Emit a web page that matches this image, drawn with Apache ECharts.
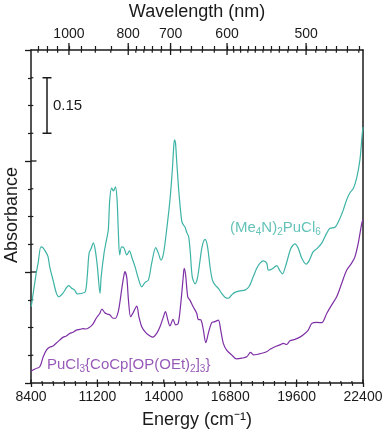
<!DOCTYPE html>
<html style="height: 100%">

<head>
  <meta charset="utf-8">
</head>

<body style="height: 100%; margin: 0">
  <div id="container" style="width: 387px; height: 433px"></div>
  <script type="text/javascript" src="https://cdn.jsdelivr.net/npm/echarts@6/dist/echarts.min.js"></script>
  <script type="text/javascript">
    // 能量 (cm-1) 与吸光度
    var tealEnergy = [8410, 8620, 8700, 8820, 8910, 9050, 9120, 9190, 9330, 9470, 9570, 9750, 9890, 9990, 10100,
      10240, 10350, 10520, 10690, 10770, 10850, 10940, 11030, 11110, 11200, 11310, 11360, 11480, 11580, 11660,
      11720, 11800, 11880, 11960, 12030, 12080, 12140, 12220, 12320, 12440, 12550, 12660, 12790, 12920, 13070,
      13210, 13350, 13490, 13660, 13770, 13880, 13990, 14120, 14260, 14360, 14410, 14450, 14490, 14540, 14640,
      14760, 14830, 14890, 14980, 15050, 15120, 15200, 15320, 15420, 15530, 15620, 15740, 15840, 15950, 16050,
      16160, 16300, 16440, 16580, 16720, 16860, 17000, 17210, 17420, 17590, 17770, 17920, 18060, 18200, 18340,
      18410, 18560, 18760, 18880, 19000, 19150, 19360, 19530, 19670, 19820, 20000, 20140, 20300, 20470, 20660,
      20870, 21010, 21220, 21400, 21570, 21710, 21850, 21990, 22130, 22270, 22370, 22400];
    var tealAbs = [0.206, 0.297, 0.324, 0.368, 0.365, 0.351, 0.341, 0.314, 0.278, 0.243, 0.233, 0.243, 0.257, 0.263, 0.257,
      0.251, 0.241, 0.242, 0.247, 0.287, 0.351, 0.364, 0.379, 0.359, 0.314, 0.242, 0.287, 0.351, 0.386, 0.414,
      0.495, 0.527, 0.519, 0.530, 0.495, 0.414, 0.346, 0.368, 0.365, 0.346, 0.357, 0.338, 0.314, 0.284, 0.260,
      0.272, 0.278, 0.324, 0.366, 0.351, 0.332, 0.351, 0.414, 0.495, 0.576, 0.630, 0.657, 0.651, 0.603, 0.513,
      0.436, 0.427, 0.422, 0.405, 0.395, 0.351, 0.287, 0.268, 0.284, 0.332, 0.370, 0.388, 0.370, 0.314, 0.278,
      0.265, 0.256, 0.242, 0.232, 0.229, 0.238, 0.245, 0.249, 0.251, 0.260, 0.287, 0.310, 0.324, 0.330, 0.324,
      0.305, 0.308, 0.317, 0.305, 0.295, 0.319, 0.364, 0.376, 0.364, 0.337, 0.321, 0.332, 0.355, 0.364, 0.378,
      0.405, 0.418, 0.421, 0.441, 0.468, 0.495, 0.514, 0.526, 0.553, 0.603, 0.675, 0.692];

    var purpleEnergy = [8400, 8570, 8770, 8910, 9050, 9200, 9330, 9470, 9610, 9760, 9890, 10030, 10170, 10310, 10470,
      10590, 10730, 10880, 11010, 11150, 11300, 11390, 11510, 11630, 11730, 11860, 11960, 12080, 12150, 12220,
      12300, 12360, 12440, 12510, 12600, 12700, 12860, 12950, 13070, 13240, 13420, 13540, 13700, 13840, 13980,
      14070, 14160, 14260, 14390, 14500, 14610, 14730, 14820, 14860, 14920, 15010, 15100, 15240, 15390, 15450,
      15570, 15670, 15770, 15880, 16020, 16160, 16300, 16400, 16510, 16650, 16860, 17070, 17290, 17500, 17660,
      17780, 17990, 18180, 18350, 18480, 18690, 18900, 19040, 19180, 19320, 19530, 19740, 19950, 20090, 20240,
      20450, 20660, 20870, 21080, 21290, 21500, 21710, 21920, 22060, 22200, 22350, 22400];
    var purpleAbs = [0.032, 0.038, 0.044, 0.070, 0.089, 0.097, 0.100, 0.108, 0.116, 0.124, 0.127, 0.134, 0.137, 0.143, 0.145,
      0.147, 0.146, 0.151, 0.159, 0.175, 0.188, 0.200, 0.190, 0.186, 0.184, 0.175, 0.175, 0.193, 0.219, 0.251,
      0.284, 0.301, 0.284, 0.224, 0.179, 0.189, 0.208, 0.179, 0.152, 0.136, 0.127, 0.124, 0.134, 0.152, 0.178,
      0.193, 0.173, 0.154, 0.172, 0.157, 0.161, 0.224, 0.287, 0.310, 0.292, 0.233, 0.224, 0.206, 0.188, 0.172,
      0.170, 0.143, 0.109, 0.135, 0.163, 0.166, 0.170, 0.143, 0.107, 0.089, 0.076, 0.065, 0.067, 0.071, 0.083,
      0.076, 0.078, 0.081, 0.085, 0.091, 0.098, 0.103, 0.107, 0.104, 0.114, 0.118, 0.124, 0.134, 0.143, 0.161,
      0.164, 0.163, 0.188, 0.211, 0.233, 0.269, 0.305, 0.324, 0.341, 0.378, 0.432, 0.441];

    // 上方波长轴刻度 (nm)
    var wlMajor = [1000, 800, 700, 600, 500];
    var wlMinor = [1150, 1100, 1050, 950, 900, 850, 780, 760, 740, 720, 680, 660, 640, 620,
      590, 580, 570, 560, 550, 540, 530, 520, 510, 490, 480, 470, 460, 450];

    // 标尺 0.15
    var scaleBar = [9075, 0.675, 0.825];
    var tealLabelPos = [16790, 0.419];
    var purpleLabelPos = [9075, 0.049];

    var X_MIN = 8400, X_MAX = 22400, X_STEP = 2800, X_SUB = 6;
    var Y_MIN = 0, Y_MAX = 0.9, Y_STEP = 0.3, Y_SUB = 4;

    var TEAL = '#3db3a6';
    var PURPLE = '#7d2fa5';
    var FONT = 'Liberation Sans, Arial, sans-serif';
    var INK = '#1a1a1a';

    function zip(a, b) {
      return a.map(function (v, i) { return [v, b[i]]; });
    }
    function toEnergy(nm) {
      return nm.map(function (v) { return 1e7 / v; });
    }

    var dom = document.getElementById("container");
    var myChart = echarts.init(dom);

    var axLine = { show: true, onZero: false, lineStyle: { color: INK, width: 1.5 } };
    var titleStyle = { fontFamily: FONT, fontSize: 18, fill: INK, textAlign: 'center', textVerticalAlign: 'middle' };

    var option = {
      animation: false,
      grid: { left: 31, right: 24, top: 50, bottom: 50 },
      // 轴标题单独放，避免 v6 按标题自动收缩绘图区
      graphic: [
        { type: 'text', x: 197, y: 12, silent: true, style: Object.assign({ text: 'Wavelength (nm)' }, titleStyle) },
        { type: 'text', x: 197, y: 420, silent: true, style: Object.assign({ text: 'Energy (cm\u207B\u00B9)' }, titleStyle) },
        { type: 'text', x: 12, y: 215, rotation: Math.PI / 2, silent: true, style: Object.assign({ text: 'Absorbance' }, titleStyle) }
      ],
      xAxis: [
        {
          type: 'value', min: X_MIN, max: X_MAX, interval: X_STEP, position: 'bottom',
          splitLine: { show: false },
          axisLine: axLine,
          axisTick: { show: true, length: 4, lineStyle: { color: INK, width: 1.3 } },
          minorTick: { show: true, splitNumber: X_SUB, length: 2.8, lineStyle: { color: INK, width: 1.2 } },
          axisLabel: {
            fontFamily: FONT, fontSize: 14, color: INK, margin: 7, showMinLabel: true, showMaxLabel: true,
            formatter: function (v) { return String(v); }
          }
        },
        {
          type: 'value', min: X_MIN, max: X_MAX, position: 'top',
          splitLine: { show: false },
          axisLine: axLine,
          axisTick: {
            show: true, length: 4,
            customValues: toEnergy(wlMajor.concat(wlMinor)),
            lineStyle: { color: INK, width: 1.2 }
          },
          axisLabel: {
            fontFamily: FONT, fontSize: 14, color: INK, margin: 9,
            customValues: toEnergy(wlMajor),
            formatter: function (v) { return Math.round(1e7 / v); }
          }
        }
      ],
      yAxis: [
        {
          type: 'value', min: Y_MIN, max: Y_MAX, interval: Y_STEP, position: 'left',
          splitLine: { show: false },
          axisLine: axLine,
          axisTick: { show: true, length: 6, lineStyle: { color: INK, width: 1.3 } },
          minorTick: { show: true, splitNumber: Y_SUB, length: 3, lineStyle: { color: INK, width: 1.2 } },
          axisLabel: { show: false }
        },
        {
          type: 'value', min: Y_MIN, max: Y_MAX, position: 'right',
          splitLine: { show: false },
          axisLine: axLine,
          axisTick: { show: false },
          axisLabel: { show: false }
        }
      ],
      series: [
        {
          name: '(Me4N)2PuCl6', type: 'line', data: zip(tealEnergy, tealAbs),
          showSymbol: false, smooth: 0.3,
          lineStyle: { color: TEAL, width: 1.2 }
        },
        {
          name: 'PuCl3{CoCp[OP(OEt)2]3}', type: 'line', data: zip(purpleEnergy, purpleAbs),
          showSymbol: false, smooth: 0.3,
          lineStyle: { color: PURPLE, width: 1.2 }
        },
        {
          // 刻度线伸进绘图区的部分，以及上方主刻度加长的部分
          type: 'custom', silent: true, clip: false,
          data: [[X_MIN, Y_MIN]],
          renderItem: function (params, api) {
            var kids = [];
            function seg(x1, y1, x2, y2, w) {
              kids.push({ type: 'line', shape: { x1: x1, y1: y1, x2: x2, y2: y2 }, style: { stroke: INK, lineWidth: w } });
            }
            var nX = (X_MAX - X_MIN) / X_STEP * X_SUB;
            for (var i = 0; i <= nX; i++) {
              var p = api.coord([X_MIN + i * X_STEP / X_SUB, Y_MIN]);
              var mj = i % X_SUB === 0;
              seg(p[0], p[1], p[0], p[1] - (mj ? 3.5 : 2), mj ? 1.3 : 1.2);
            }
            toEnergy(wlMajor).forEach(function (e) {
              var q = api.coord([e, Y_MAX]);
              seg(q[0], q[1] - 7, q[0], q[1] + 5, 1.3);
            });
            toEnergy(wlMinor).forEach(function (e) {
              var q = api.coord([e, Y_MAX]);
              seg(q[0], q[1], q[0], q[1] + 2.7, 1.2);
            });
            var nY = Math.round((Y_MAX - Y_MIN) / Y_STEP * Y_SUB);
            for (var j = 1; j < nY; j++) {
              var r = api.coord([X_MIN, Y_MIN + j * Y_STEP / Y_SUB]);
              var mjy = j % Y_SUB === 0;
              seg(r[0], r[1], r[0] + (mjy ? 5.5 : 2.3), r[1], mjy ? 1.3 : 1.2);
            }
            return { type: 'group', children: kids };
          }
        },
        {
          type: 'custom', silent: true, clip: false,
          data: [scaleBar],
          renderItem: function (params, api) {
            var lo = api.coord([api.value(0), api.value(1)]);
            var hi = api.coord([api.value(0), api.value(2)]);
            var st = { stroke: INK, lineWidth: 1.5 };
            return {
              type: 'group',
              children: [
                { type: 'line', shape: { x1: lo[0], y1: lo[1], x2: hi[0], y2: hi[1] }, style: st },
                { type: 'line', shape: { x1: lo[0] - 4.5, y1: lo[1], x2: lo[0] + 4.5, y2: lo[1] }, style: st },
                { type: 'line', shape: { x1: hi[0] - 4.5, y1: hi[1], x2: hi[0] + 4.5, y2: hi[1] }, style: st },
                {
                  type: 'text', x: lo[0] + 6, y: (lo[1] + hi[1]) / 2,
                  style: { text: '0.15', fontFamily: FONT, fontSize: 15, fill: INK, verticalAlign: 'middle' }
                }
              ]
            };
          }
        },
        {
          type: 'scatter', symbolSize: 0, silent: true,
          data: [tealLabelPos],
          label: {
            show: true, position: 'right', distance: 0,
            fontFamily: FONT, fontSize: 15, color: TEAL,
            formatter: '{m|(Me}{s|4}{m|N)}{s|2}{m|PuCl}{s|6}',
            rich: {
              m: { fontFamily: FONT, fontSize: 15, color: TEAL, lineHeight: 18 },
              s: { fontFamily: FONT, fontSize: 10, color: TEAL, lineHeight: 10, verticalAlign: 'bottom' }
            }
          }
        },
        {
          type: 'scatter', symbolSize: 0, silent: true,
          data: [purpleLabelPos],
          label: {
            show: true, position: 'right', distance: 0,
            fontFamily: FONT, fontSize: 15, color: PURPLE, lineHeight: 18,
            formatter: '{m|PuCl}{s|3}{m|{CoCp[OP(OEt)}{s|2}{m|]}{s|3}{m|}}',
            rich: {
              m: { fontFamily: FONT, fontSize: 15, color: PURPLE, lineHeight: 18 },
              s: { fontFamily: FONT, fontSize: 10, color: PURPLE, lineHeight: 10, verticalAlign: 'bottom' }
            }
          }
        }
      ]
    };
    myChart.setOption(option, true);
  </script>
</body>

</html>
